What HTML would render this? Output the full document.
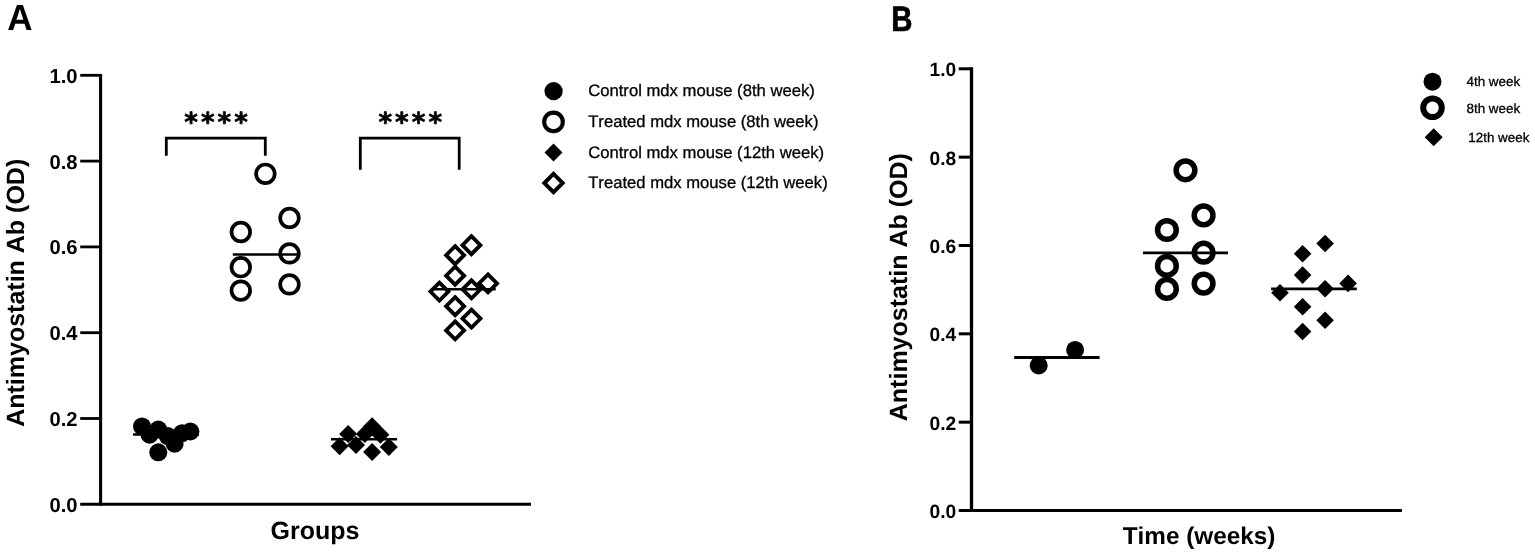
<!DOCTYPE html>
<html lang="en"><head><meta charset="utf-8"><title>Antimyostatin Ab (OD)</title>
<style>
html,body{margin:0;padding:0;background:#fff;}
body{width:1535px;height:554px;overflow:hidden;}
svg{display:block;filter:blur(0.45px);}
text{font-family:"Liberation Sans",Arial,Helvetica,sans-serif;fill:#000;text-rendering:geometricPrecision;font-kerning:none;}
.pl{font-size:35.8px;font-weight:bold;}
.tk{font-size:20.2px;font-weight:bold;text-anchor:end;}
.tkB{font-size:19.2px;font-weight:bold;text-anchor:end;}
.ax{font-size:24.6px;font-weight:bold;text-anchor:middle;}
.lgA{font-size:16.65px;stroke:#000;stroke-width:0.3px;}
.lgB{font-size:13.4px;stroke:#000;stroke-width:0.3px;}
.st{font-family:"DejaVu Sans","Liberation Sans",sans-serif;font-weight:bold;font-size:26px;letter-spacing:3.1px;stroke:#000;stroke-width:0.7px;stroke-linejoin:round;}
.ln{stroke:#000;fill:none;}
</style></head><body>
<svg width="1535" height="554" viewBox="0 0 1535 554">
<rect width="1535" height="554" fill="#fff"/>
<g id="panelA">
<text class="pl" style="font-size:36.3px" transform="translate(7.2 30.0) scale(0.965 1)">A</text>
<path class="ln" stroke-width="3.1" d="M100.6 73.9V505.8"/>
<path class="ln" stroke-width="3.1" d="M80.2 504.3H531"/>
<path class="ln" stroke-width="2.8" d="M80.2 418.5H100.6"/>
<path class="ln" stroke-width="2.8" d="M80.2 332.7H100.6"/>
<path class="ln" stroke-width="2.8" d="M80.2 246.9H100.6"/>
<path class="ln" stroke-width="2.8" d="M80.2 161.1H100.6"/>
<path class="ln" stroke-width="2.8" d="M80.2 75.3H100.6"/>
<text class="tk" x="77.6" y="511.8">0.0</text>
<text class="tk" x="77.6" y="426">0.2</text>
<text class="tk" x="77.6" y="340.2">0.4</text>
<text class="tk" x="77.6" y="254.4">0.6</text>
<text class="tk" x="77.6" y="168.6">0.8</text>
<text class="tk" x="77.6" y="82.8">1.0</text>
<text class="ax" style="font-size:25px" transform="translate(24.4 292.8) rotate(-90)">Antimyostatin Ab (OD)</text>
<text class="ax" style="font-size:25px" x="315" y="538.9">Groups</text>
<path class="ln" stroke-width="2.8" d="M166.3 155.8V138.1H265.3V155.8"/>
<path class="ln" stroke-width="2.8" d="M360.3 169.8V138.1H459.2V169.8"/>
<text class="st" x="184.2" y="131.2">****</text>
<text class="st" x="378.4" y="131.2">****</text>
<path class="ln" stroke-width="2.5" d="M133 434.4H199"/>
<path class="ln" stroke-width="2.5" d="M232.8 254.4H298.8"/>
<path class="ln" stroke-width="2.5" d="M331 439.3H397.1"/>
<path class="ln" stroke-width="2.5" d="M430.7 289.3H495.7"/>
<circle cx="142" cy="426.4" r="9"/>
<circle cx="158.3" cy="429.6" r="9"/>
<circle cx="149.6" cy="434.7" r="9"/>
<circle cx="167.7" cy="436.1" r="9"/>
<circle cx="174.6" cy="443.7" r="9"/>
<circle cx="158.3" cy="452.3" r="9"/>
<circle cx="182.1" cy="433.2" r="9"/>
<circle cx="190.4" cy="431.5" r="9"/>
<circle cx="265.4" cy="173.8" r="9.3" fill="none" stroke="#000" stroke-width="3.7"/>
<circle cx="289.5" cy="218" r="9.3" fill="none" stroke="#000" stroke-width="3.7"/>
<circle cx="240.8" cy="232" r="9.3" fill="none" stroke="#000" stroke-width="3.7"/>
<circle cx="289.5" cy="253.4" r="9.3" fill="none" stroke="#000" stroke-width="3.7"/>
<circle cx="240.8" cy="267.2" r="9.3" fill="none" stroke="#000" stroke-width="3.7"/>
<circle cx="289.5" cy="284.4" r="9.3" fill="none" stroke="#000" stroke-width="3.7"/>
<circle cx="240.8" cy="290.6" r="9.3" fill="none" stroke="#000" stroke-width="3.7"/>
<path d="M348.1 424.9L357.1 433.9L348.1 442.9L339.1 433.9Z"/>
<path d="M372.1 417.2L381.1 426.2L372.1 435.2L363.1 426.2Z"/>
<path d="M380.4 425.7L389.4 434.7L380.4 443.7L371.4 434.7Z"/>
<path d="M364.9 425L373.9 434L364.9 443L355.9 434Z"/>
<path d="M339.6 437.2L348.6 446.2L339.6 455.2L330.6 446.2Z"/>
<path d="M356 436.1L365 445.1L356 454.1L347 445.1Z"/>
<path d="M372.1 443L381.1 452L372.1 461L363.1 452Z"/>
<path d="M388.8 438L397.8 447L388.8 456L379.8 447Z"/>
<path d="M471.4 236.2L480.4 245.2L471.4 254.2L462.4 245.2Z" fill="none" stroke="#000" stroke-width="3.8"/>
<path d="M455.1 246.2L464.1 255.2L455.1 264.2L446.1 255.2Z" fill="none" stroke="#000" stroke-width="3.8"/>
<path d="M455.1 266.7L464.1 275.7L455.1 284.7L446.1 275.7Z" fill="none" stroke="#000" stroke-width="3.8"/>
<path d="M488 274.4L497 283.4L488 292.4L479 283.4Z" fill="none" stroke="#000" stroke-width="3.8"/>
<path d="M471.5 280.3L480.5 289.3L471.5 298.3L462.5 289.3Z" fill="none" stroke="#000" stroke-width="3.8"/>
<path d="M439.4 282.6L448.4 291.6L439.4 300.6L430.4 291.6Z" fill="none" stroke="#000" stroke-width="3.8"/>
<path d="M455.1 297.2L464.1 306.2L455.1 315.2L446.1 306.2Z" fill="none" stroke="#000" stroke-width="3.8"/>
<path d="M471.5 309.6L480.5 318.6L471.5 327.6L462.5 318.6Z" fill="none" stroke="#000" stroke-width="3.8"/>
<path d="M455.1 321.4L464.1 330.4L455.1 339.4L446.1 330.4Z" fill="none" stroke="#000" stroke-width="3.8"/>
<circle cx="553.6" cy="91.1" r="9.15"/>
<circle cx="553.5" cy="121.9" r="9.3" fill="none" stroke="#000" stroke-width="4.1"/>
<path d="M553.5 143.5L562.5 152.5L553.5 161.5L544.5 152.5Z"/>
<path d="M553.5 173.8L562.7 183L553.5 192.2L544.3 183Z" fill="none" stroke="#000" stroke-width="3.9"/>
<text class="lgA" x="588.2" y="96.1">Control mdx mouse (8th week)</text>
<text class="lgA" x="588.2" y="127">Treated mdx mouse (8th week)</text>
<text class="lgA" x="588.2" y="157.5">Control mdx mouse (12th week)</text>
<text class="lgA" x="588.2" y="188">Treated mdx mouse (12th week)</text>
</g>
<g id="panelB">
<text class="pl" style="font-size:35.4px;stroke:#000;stroke-width:0.7px" transform="translate(891.2 30.7) scale(0.83 1)">B</text>
<path class="ln" stroke-width="3.3" d="M971.5 67.3V512.1"/>
<path class="ln" stroke-width="3.2" d="M958.7 510.5H1401.9"/>
<path class="ln" stroke-width="3" d="M958.7 422.16H971.5"/>
<path class="ln" stroke-width="3" d="M958.7 333.82H971.5"/>
<path class="ln" stroke-width="3" d="M958.7 245.48H971.5"/>
<path class="ln" stroke-width="3" d="M958.7 157.14H971.5"/>
<path class="ln" stroke-width="3" d="M958.7 68.8H971.5"/>
<text class="tkB" x="956.2" y="518.1">0.0</text>
<text class="tkB" x="956.2" y="429.76">0.2</text>
<text class="tkB" x="956.2" y="341.42">0.4</text>
<text class="tkB" x="956.2" y="253.08">0.6</text>
<text class="tkB" x="956.2" y="164.74">0.8</text>
<text class="tkB" x="956.2" y="76.4">1.0</text>
<text class="ax" style="font-size:25px" transform="translate(906.5 287.2) rotate(-90)">Antimyostatin Ab (OD)</text>
<text class="ax" style="font-size:24.3px" x="1199" y="543.8">Time (weeks)</text>
<path class="ln" stroke-width="2.8" d="M1014.2 357.5H1099.6"/>
<path class="ln" stroke-width="2.8" d="M1143 252.8H1228"/>
<path class="ln" stroke-width="2.8" d="M1271.1 288.8H1356.8"/>
<circle cx="1038.7" cy="365.5" r="9"/>
<circle cx="1075.1" cy="349.9" r="9"/>
<circle cx="1185.5" cy="170.3" r="9.35" fill="none" stroke="#000" stroke-width="5.5"/>
<circle cx="1203.6" cy="215.4" r="9.35" fill="none" stroke="#000" stroke-width="5.5"/>
<circle cx="1166.9" cy="230" r="9.35" fill="none" stroke="#000" stroke-width="5.5"/>
<circle cx="1203.6" cy="252.7" r="9.35" fill="none" stroke="#000" stroke-width="5.5"/>
<circle cx="1166.9" cy="265.9" r="9.35" fill="none" stroke="#000" stroke-width="5.5"/>
<circle cx="1203.6" cy="283.6" r="9.35" fill="none" stroke="#000" stroke-width="5.5"/>
<circle cx="1166.9" cy="288.9" r="9.35" fill="none" stroke="#000" stroke-width="5.5"/>
<path d="M1325.1 234.7L1333.9 243.5L1325.1 252.3L1316.3 243.5Z"/>
<path d="M1302.6 245L1311.4 253.8L1302.6 262.6L1293.8 253.8Z"/>
<path d="M1302.6 266.3L1311.4 275.1L1302.6 283.9L1293.8 275.1Z"/>
<path d="M1348.1 274.6L1356.9 283.4L1348.1 292.2L1339.3 283.4Z"/>
<path d="M1325.1 280L1333.9 288.8L1325.1 297.6L1316.3 288.8Z"/>
<path d="M1280 283.9L1288.8 292.7L1280 301.5L1271.2 292.7Z"/>
<path d="M1302.6 298L1311.4 306.8L1302.6 315.6L1293.8 306.8Z"/>
<path d="M1325.1 311.4L1333.9 320.2L1325.1 329L1316.3 320.2Z"/>
<path d="M1302.6 322.7L1311.4 331.5L1302.6 340.3L1293.8 331.5Z"/>
<circle cx="1432.5" cy="81.7" r="9"/>
<circle cx="1432.5" cy="107.8" r="9.3" fill="none" stroke="#000" stroke-width="6"/>
<path d="M1433.7 128.2L1442.7 137.2L1433.7 146.2L1424.7 137.2Z"/>
<text class="lgB" x="1466.5" y="86.1">4th week</text>
<text class="lgB" x="1466.5" y="112.8">8th week</text>
<text class="lgB" x="1468.3" y="142.1">12th week</text>
</g>
</svg>
</body></html>
